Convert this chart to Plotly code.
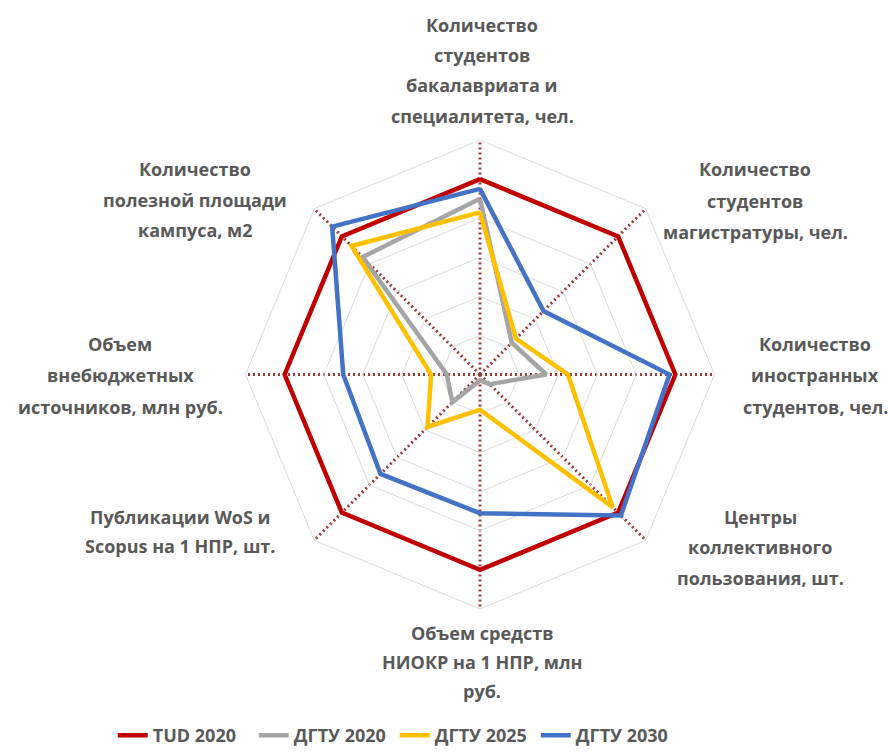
import plotly.graph_objects as go

# ---- data ----
categories = [
    "Количество студентов бакалавриата и специалитета, чел.",
    "Количество студентов магистратуры, чел.",
    "Количество иностранных студентов, чел.",
    "Центры коллективного пользования, шт.",
    "Объем средств НИОКР на 1 НПР, млн руб.",
    "Публикации WoS и Scopus на 1 НПР, шт.",
    "Объем внебюджетных источников, млн руб.",
    "Количество полезной площади кампуса, м2",
]
label_lines = [
    ["Количество", "студентов", "бакалавриата и", "специалитета, чел."],
    ["Количество", "студентов", "магистратуры, чел."],
    ["Количество", "иностранных", "студентов, чел."],
    ["Центры", "коллективного", "пользования, шт."],
    ["Объем средств", "НИОКР на 1 НПР, млн", "руб."],
    ["Публикации WoS и", "Scopus на 1 НПР, шт."],
    ["Объем", "внебюджетных", "источников, млн руб."],
    ["Количество", "полезной площади", "кампуса, м2"],
]
series_names = ["TUD 2020", "ДГТУ 2020", "ДГТУ 2025", "ДГТУ 2030"]
tud_2020 = [1.0, 1.0, 1.0, 1.0, 1.0, 1.0, 1.0, 1.0]
dgtu_2020 = [0.90, 0.23, 0.34, 0.07, 0.03, 0.20, 0.17, 0.85]
dgtu_2025 = [0.83, 0.26, 0.45, 0.96, 0.18, 0.38, 0.25, 0.93]
dgtu_2030 = [0.95, 0.46, 0.97, 1.02, 0.71, 0.72, 0.70, 1.07]
series_values = [tud_2020, dgtu_2020, dgtu_2025, dgtu_2030]
colors = ["#C00000", "#A5A5A5", "#FFC000", "#4472C4"]

W, H = 888, 754
CX, CY, R = 480, 377, 236

fig = go.Figure()
for name, vals, col in zip(series_names, series_values, colors):
    fig.add_trace(go.Scatterpolar(
        r=vals + vals[:1],
        theta=categories + categories[:1],
        mode="lines",
        name=name,
        line=dict(color=col, width=4.5),
    ))

# label positions (centre x, first-line y, line step) in pixels
label_pos = [
    (482, 25, 30.5), (755, 170, 32), (815, 346, 32), (760, 520, 31),
    (482, 637, 29.5), (180, 520, 30), (120, 346, 32), (195, 170, 31),
]
annotations = []
for lines, (lx, ly, step) in zip(label_lines, label_pos):
    for i, t in enumerate(lines):
        annotations.append(dict(
            x=lx / W, y=1 - (ly + i * step) / H, xref="paper", yref="paper",
            text=t, showarrow=False, xanchor="center", yanchor="middle",
            font=dict(family="Open Sans", size=18, color="#595959", weight="bold"),
        ))

fig.update_layout(
    width=W, height=H,
    margin=dict(l=0, r=0, t=0, b=0),
    paper_bgcolor="white",
    plot_bgcolor="white",
    polar=dict(
        domain=dict(x=[(CX - R) / W, (CX + R) / W], y=[1 - (CY + R) / H, 1 - (CY - R) / H]),
        gridshape="linear",
        bgcolor="white",
        radialaxis=dict(
            range=[0, 1.2], dtick=0.2, showticklabels=False, ticks="",
            showline=False, gridcolor="#DCDCDC", gridwidth=1,
        ),
        angularaxis=dict(
            direction="clockwise", rotation=90,
            showticklabels=False, ticks="",
            showline=True, linecolor="#DCDCDC", linewidth=1,
            gridcolor="#9E3A3A", gridwidth=3, griddash="2px,3px",
        ),
    ),
    showlegend=True,
    legend=dict(
        orientation="h", x=0.127, xanchor="left", y=0.018, yanchor="middle",
        font=dict(family="Open Sans", size=18, color="#595959", weight="bold"),
        entrywidth=96, entrywidthmode="pixels",
        bgcolor="rgba(0,0,0,0)",
    ),
    annotations=annotations,
)

fig.write_html("out.html")
